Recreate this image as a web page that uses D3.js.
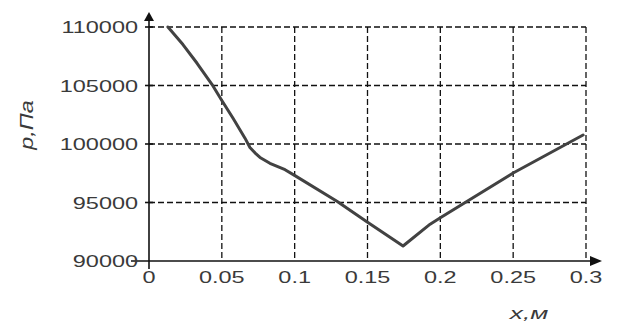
<!DOCTYPE html>
<html>
<head>
<meta charset="utf-8">
<script src="https://cdn.jsdelivr.net/npm/d3@7"></script>
<style>
  body { margin: 0; background: #fff; }
  svg { display: block; }
  .lbl { font-family: "Liberation Sans", Arial, sans-serif; fill: #3a3a3a; }
</style>
</head>
<body>
<div id="chart"></div>
<script>
// DATA
var xTicks = [0, 0.05, 0.1, 0.15, 0.2, 0.25, 0.3];
var yTicks = [90000, 95000, 100000, 105000, 110000];
var xTickLabels = ["0", "0.05", "0.1", "0.15", "0.2", "0.25", "0.3"];
var xVals = [0.013, 0.0233, 0.033, 0.0432, 0.0501, 0.0577, 0.0659, 0.0693, 0.0735, 0.0762, 0.083, 0.0934, 0.1002, 0.129, 0.1503, 0.1744, 0.193, 0.2, 0.25, 0.298];
var pVals = [110000, 108500, 106900, 105100, 103700, 102200, 100500, 99700, 99150, 98850, 98350, 97800, 97300, 95100, 93300, 91280, 93150, 93700, 97520, 100770];

// size of the picture
var w = 619;
var h = 325;

var svg = d3
    .select("#chart")
    .append("svg")
    .attr("width", w)
    .attr("height", h);

// scales: 0..0.3 over the plot, 90000..110000 bottom to top
var x = d3.scaleLinear().domain([0, 0.3]).range([149, 586]);
var y = d3.scaleLinear().domain([90000, 110000]).range([261, 27]);

// dashed grid
var grid = svg.append("g").attr("stroke", "#111").attr("stroke-width", 1.3).attr("stroke-dasharray", "6,3");
grid.selectAll(".hg")
    .data(yTicks.filter(d => d > 90000))
    .enter()
    .append("line")
    .attr("x1", x(0))
    .attr("x2", x(0.3))
    .attr("y1", d => y(d))
    .attr("y2", d => y(d));
grid.selectAll(".vg")
    .data(xTicks.filter(d => d > 0))
    .enter()
    .append("line")
    .attr("x1", d => x(d))
    .attr("x2", d => x(d))
    .attr("y1", y(110000))
    .attr("y2", y(90000));

// curve
var line = d3.line()
    .x((d, i) => x(xVals[i]))
    .y(d => y(d));
svg.append("path")
    .datum(pVals)
    .attr("d", line)
    .attr("fill", "none")
    .attr("stroke", "#424242")
    .attr("stroke-width", 3)
    .attr("stroke-linejoin", "round")
    .attr("stroke-linecap", "round");

// axes lines with arrows
var axes = svg.append("g").attr("stroke", "#111").attr("stroke-width", 1.6);
axes.append("line").attr("x1", 131).attr("x2", 592).attr("y1", y(90000)).attr("y2", y(90000));
axes.append("line").attr("x1", x(0)).attr("x2", x(0)).attr("y1", 269).attr("y2", 20);
// y ticks crossing the axis
axes.selectAll(".yt")
    .data(yTicks.filter(d => d > 90000))
    .enter()
    .append("line")
    .attr("x1", x(0) - 4)
    .attr("x2", x(0) + 4)
    .attr("y1", d => y(d))
    .attr("y2", d => y(d));
svg.append("path")
    .attr("d", "M" + x(0) + ",12 L" + (x(0) - 5) + ",21 L" + (x(0) + 5) + ",21 Z")
    .attr("fill", "#111");
svg.append("path")
    .attr("d", "M602," + y(90000) + " L590," + (y(90000) - 5) + " L590," + (y(90000) + 5) + " Z")
    .attr("fill", "#111");

// tick labels, stretched wide like the original
svg.selectAll(".ylbl")
    .data(yTicks)
    .enter()
    .append("text")
    .attr("class", "lbl")
    .attr("font-size", 17)
    .attr("text-anchor", "end")
    .attr("transform", d => "translate(138," + (y(d) + 6) + ") scale(1.38,1)")
    .text(d => d);
svg.selectAll(".xlbl")
    .data(xTicks)
    .enter()
    .append("text")
    .attr("class", "lbl")
    .attr("font-size", 17)
    .attr("text-anchor", "middle")
    .attr("transform", d => "translate(" + x(d) + ",283) scale(1.38,1)")
    .text((d, i) => xTickLabels[i]);

// axis titles
svg.append("text")
    .attr("class", "lbl")
    .attr("font-size", 18)
    .attr("font-style", "italic")
    .attr("text-anchor", "middle")
    .attr("transform", "translate(33,125) rotate(-90) scale(1.3,1)")
    .text("p,Па");
svg.append("text")
    .attr("class", "lbl")
    .attr("font-size", 17)
    .attr("font-style", "italic")
    .attr("text-anchor", "middle")
    .attr("transform", "translate(529,319) scale(1.55,1)")
    .text("x,м");
</script>
</body>
</html>
